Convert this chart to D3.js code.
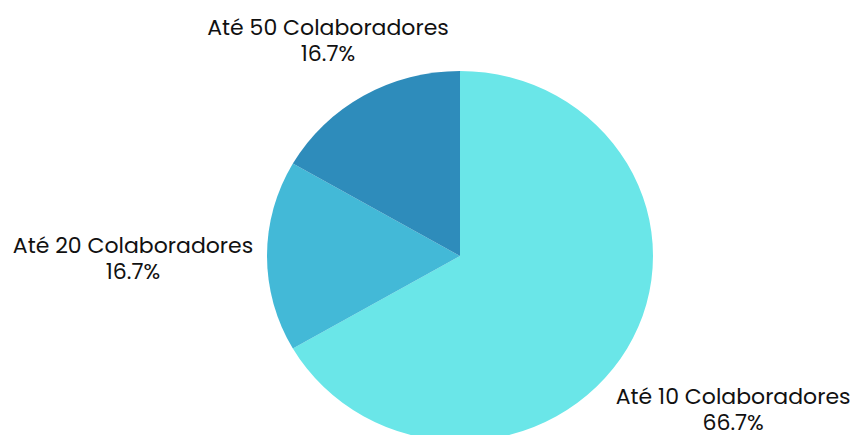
<!DOCTYPE html>
<html><head><meta charset="utf-8">
<script src="https://cdn.jsdelivr.net/npm/d3@7"></script>
<style>html,body{margin:0;padding:0;background:#fff;}</style>
</head><body>
<svg id="chart" width="855" height="435"></svg>
<script>
const categories = ["Até 10 Colaboradores", "Até 20 Colaboradores", "Até 50 Colaboradores"];
const values = [4, 1, 1];
const colors = ["#6ae6e8", "#43b9d7", "#2e8cbb"];

const W = 855, H = 435;
const cx = 460, cy = 256, rx = 193, ry = 185;
const svg = d3.select("#chart");
const total = d3.sum(values);
const pie = d3.pie().sort(null).value(d => d)(values);
const arc = d3.arc().innerRadius(0).outerRadius(rx);

const g = svg.append("g").attr("transform", `translate(${cx},${cy}) scale(1,${ry/rx})`);
g.selectAll("path").data(pie).join("path")
  .attr("d", arc)
  .attr("fill", (d, i) => colors[i]);

const fmt = d3.format(".1%");
const fontSize = 22;
// first-line baseline offsets relative to edge point at the mid angle
const labelOffsets = [[106, 55], [-134, -3], [-35.5, -61]];
pie.forEach((d, i) => {
  const a = (d.startAngle + d.endAngle) / 2;
  const px = cx + rx * Math.sin(a), py = cy - ry * Math.cos(a);
  const lx = px + labelOffsets[i][0], ly = py + labelOffsets[i][1];
  const lines = [categories[i], fmt(values[i] / total)];
  lines.forEach((s, k) => {
    svg.append("text")
      .attr("x", lx).attr("y", ly + k * 26)
      .attr("text-anchor", "middle")
      .attr("font-family", "Poppins, 'Open Sans', sans-serif")
      .attr("font-weight", 400)
      .attr("font-size", fontSize)
      .attr("fill", "#111")
      .text(s);
  });
});
</script>
</body></html>
